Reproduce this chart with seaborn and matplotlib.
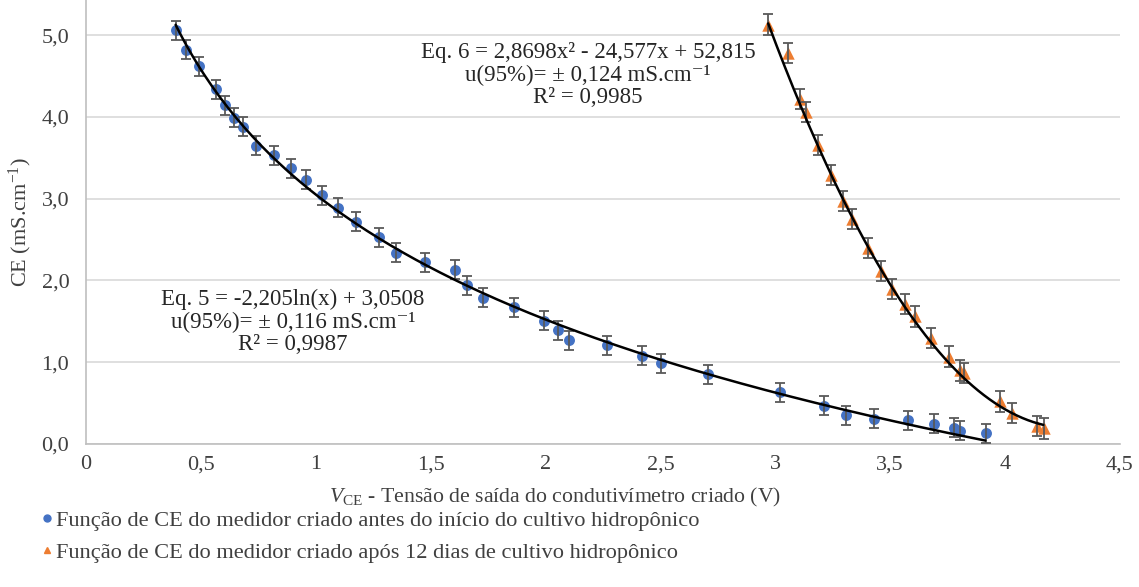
import numpy as np
import pandas as pd
import seaborn as sns
import matplotlib.pyplot as plt
from matplotlib.lines import Line2D

# data
blue_x = [0.39, 0.435, 0.49, 0.566, 0.604, 0.644, 0.682, 0.74, 0.818, 0.892, 0.958,
          1.027, 1.096, 1.175, 1.274, 1.35, 1.477, 1.608, 1.657, 1.727, 1.863, 1.994,
          2.055, 2.104, 2.267, 2.42, 2.502, 2.708, 3.02, 3.213, 3.309, 3.43, 3.579,
          3.692, 3.779, 3.805, 3.918]
blue_y = [5.06, 4.82, 4.62, 4.34, 4.14, 3.99, 3.88, 3.65, 3.53, 3.37, 3.23,
          3.04, 2.89, 2.72, 2.53, 2.34, 2.22, 2.13, 1.94, 1.79, 1.67, 1.51,
          1.39, 1.27, 1.21, 1.08, 0.99, 0.85, 0.63, 0.47, 0.35, 0.31, 0.29,
          0.25, 0.20, 0.16, 0.13]
orange_x = [2.969, 3.055, 3.109, 3.132, 3.187, 3.242, 3.293, 3.335, 3.404, 3.46, 3.509,
            3.564, 3.607, 3.677, 3.756, 3.805, 3.822, 3.979, 4.031, 4.139, 4.171]
orange_y = [5.13, 4.78, 4.22, 4.06, 3.66, 3.29, 2.97, 2.75, 2.40, 2.12, 1.90,
            1.71, 1.56, 1.30, 1.07, 0.90, 0.87, 0.52, 0.38, 0.22, 0.19]
u_blue = 0.116
u_orange = 0.124

# trendline coefficients from the chart
log_coef = [-2.205, 3.0508]
poly_coef = [2.8698, -24.577, 52.815]

series_names = ["Função de CE do medidor criado antes do início do cultivo hidropônico",
                "Função de CE do medidor criado após 12 dias de cultivo hidropônico"]
colors = ["#4472C4", "#ED7D31"]

df_blue = pd.DataFrame({"x": blue_x, "y": blue_y})
df_orange = pd.DataFrame({"x": orange_x, "y": orange_y})

sns.set_theme(style="white")
serif = ["Liberation Serif", "DejaVu Serif"]
plt.rcParams["font.family"] = serif
plt.rcParams["mathtext.fontset"] = "custom"
plt.rcParams["mathtext.rm"] = "Liberation Serif"
plt.rcParams["mathtext.it"] = "Liberation Serif:italic"

fig = plt.figure(figsize=(11.39, 5.87), dpi=100)
ax = fig.add_axes([86 / 1139, 143 / 587, 1034 / 1139, 444 / 587])

sns.scatterplot(data=df_blue, x="x", y="y", color=colors[0], marker="o",
                s=62, linewidth=0, ax=ax, zorder=3)
sns.scatterplot(data=df_orange, x="x", y="y", color=colors[1], marker="^",
                s=80, linewidth=0, ax=ax, zorder=3)

ax.errorbar(blue_x, blue_y, yerr=u_blue, fmt="none", ecolor="#595959",
            elinewidth=1.3, capsize=3.3, capthick=1.3, zorder=4)
ax.errorbar(orange_x, orange_y, yerr=u_orange, fmt="none", ecolor="#595959",
            elinewidth=1.3, capsize=3.3, capthick=1.3, zorder=4)

xl = np.linspace(min(blue_x), 3.914, 200)
ax.plot(xl, log_coef[0] * np.log(xl) + log_coef[1], color="black", lw=1.8, zorder=5)
xp = np.linspace(min(orange_x), 4.166, 200)
ax.plot(xp, np.polyval(poly_coef, xp), color="black", lw=1.8, zorder=5)

ax.set_xlim(0, 4.5)
ax.set_ylim(0, 5.43)
ax.set_xticks(np.arange(0, 4.51, 0.5))
ax.set_xticklabels(["0", "0,5", "1", "1,5", "2", "2,5", "3", "3,5", "4", "4,5"])
ax.set_yticks(np.arange(0, 5.1, 1))
ax.set_yticklabels(["0,0", "1,0", "2,0", "3,0", "4,0", "5,0"])
ax.tick_params(axis="both", length=0, labelsize=16, labelcolor="#404040")
ax.tick_params(axis="y", pad=12)
ax.tick_params(axis="x", pad=8)
ax.yaxis.grid(True, color="#d9d9d9", lw=1.2)
ax.xaxis.grid(False)
for side in ["top", "right"]:
    ax.spines[side].set_visible(False)
for side in ["left", "bottom"]:
    ax.spines[side].set_color("#bfbfbf")
    ax.spines[side].set_linewidth(1.2)

ax.set_xlabel("")
ax.set_ylabel("CE (mS.cm$^{-1}$)", fontsize=16, color="#404040")
ax.yaxis.set_label_coords(-0.05, 0.5)
fig.text(555 / 1139, 1 - 497 / 587,
         r"$\mathit{V}_{\mathrm{CE}}$ - Tensão de saída do condutivímetro criado (V)",
         ha="center", va="center", fontsize=15.7, color="#404040")

eq6 = "Eq. 6 = 2,8698x² - 24,577x + 52,815\nu(95%)= ± 0,124 mS.cm⁻¹\nR² = 0,9985"
eq5 = "Eq. 5 = -2,205ln(x) + 3,0508\nu(95%)= ± 0,116 mS.cm⁻¹\nR² = 0,9987"
fig.text(588 / 1139, 1 - 75 / 587, eq6, ha="center", va="center", fontsize=16.5,
         color="#262626", linespacing=1.1)
fig.text(293 / 1139, 1 - 322 / 587, eq5, ha="center", va="center", fontsize=16.5,
         color="#262626", linespacing=1.1)

handles = [Line2D([], [], ls="none", marker="o", color=colors[0], markersize=5),
           Line2D([], [], ls="none", marker="^", color=colors[1], markersize=5)]
leg = fig.legend(handles, series_names, loc="upper left", frameon=False,
                 bbox_to_anchor=(21 / 1139, 1 - 490 / 587),
                 prop={"family": serif, "size": 16.1},
                 handlelength=0.5, handletextpad=0.15, labelspacing=0.5,
                 labelcolor="#404040")

fig.savefig("out.png", dpi=100)
